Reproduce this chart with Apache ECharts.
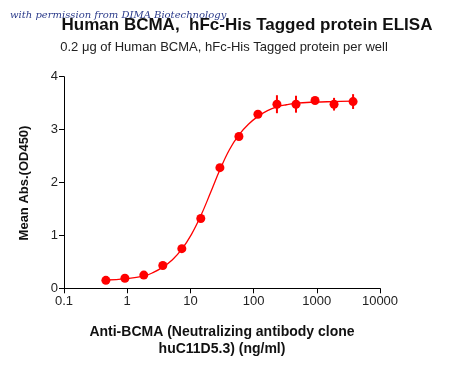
<!DOCTYPE html>
<html><head><meta charset="utf-8">
<script src="https://cdn.jsdelivr.net/npm/echarts@6/dist/echarts.min.js"></script>
<style>html,body{margin:0;padding:0;background:#fff}#c{width:450px;height:371px}</style>
</head><body><div id="c"></div>
<script>
// Data
var concentration = [0.46, 0.92, 1.83, 3.66, 7.32, 14.6, 29.3, 58.6, 117, 234, 469, 938, 1875, 3750];
var meanAbs       = [0.15, 0.19, 0.25, 0.43, 0.75, 1.32, 2.28, 2.87, 3.29, 3.48, 3.48, 3.55, 3.48, 3.53];
var errAbs        = [0.02, 0.02, 0.02, 0.03, 0.03, 0.05, 0.04, 0.03, 0.03, 0.17, 0.16, 0.03, 0.12, 0.14];
// Fitted curve
var curveX = [0.46, 0.92, 1.83, 2.6, 3.66, 5.2, 7.32, 10.4, 14.6, 20.7, 29.3, 41.4, 58.6, 82.8, 117, 166, 234, 331, 469, 938, 1875, 3750];
var curveY = [0.16, 0.18, 0.23, 0.30, 0.40, 0.54, 0.74, 1.02, 1.37, 1.80, 2.24, 2.62, 2.90, 3.10, 3.25, 3.36, 3.43, 3.47, 3.50, 3.52, 3.53, 3.54];
var xTicks = [0.1, 1, 10, 100, 1000, 10000];
var yTicks = [0, 1, 2, 3, 4];

var chart = echarts.init(document.getElementById('c'));
var font = 'Liberation Sans, Arial, sans-serif';
chart.setOption({
  animation: false,
  backgroundColor: '#fff',
  grid: {left: 64, right: 70, top: 76.7, bottom: 82.7, containLabel: false},
  xAxis: {
    type: 'log', logBase: 10, min: xTicks[0], max: xTicks[xTicks.length-1],
    axisLine: {onZero: false, lineStyle: {color: '#000', width: 1}},
    axisTick: {show: true, length: 5, lineStyle: {color: '#000'}},
    splitLine: {show: false}, minorTick: {show: false},
    axisLabel: {color: '#222', fontSize: 13, fontFamily: font, margin: 7,
      formatter: function (v) { return String(+v.toPrecision(6)); }}
  },
  yAxis: {
    type: 'value', min: yTicks[0], max: yTicks[yTicks.length-1], interval: 1,
    axisLine: {show: true, lineStyle: {color: '#000', width: 1}},
    axisTick: {show: true, length: 5, lineStyle: {color: '#000'}},
    splitLine: {show: false},
    axisLabel: {color: '#222', fontSize: 13, fontFamily: font, margin: 6}
  },
  graphic: [
    {type: 'text', x: 10, y: 15, style: {text: 'with permission from DIMA Biotechnology', fill: '#2a3a8a', font: 'italic 10px "DejaVu Serif", serif', textVerticalAlign: 'middle'}, z: 10},
    {type: 'text', x: 247, y: 25, style: {text: 'Human BCMA,  hFc-His Tagged protein ELISA', fill: '#111', font: 'bold 17px ' + font, textAlign: 'center', textVerticalAlign: 'middle'}},
    {type: 'text', x: 224, y: 47, style: {text: '0.2 μg of Human BCMA, hFc-His Tagged protein per well', fill: '#222', font: '13px ' + font, textAlign: 'center', textVerticalAlign: 'middle'}},
    {type: 'text', x: 24, y: 183, rotation: Math.PI/2, style: {text: 'Mean Abs.(OD450)', fill: '#111', font: 'bold 13px ' + font, textAlign: 'center', textVerticalAlign: 'middle'}},
    {type: 'text', x: 222, y: 332, style: {text: 'Anti-BCMA (Neutralizing antibody clone', fill: '#111', font: 'bold 14px ' + font, textAlign: 'center', textVerticalAlign: 'middle'}},
    {type: 'text', x: 222, y: 349, style: {text: 'huC11D5.3) (ng/ml)', fill: '#111', font: 'bold 14px ' + font, textAlign: 'center', textVerticalAlign: 'middle'}}
  ],
  series: [
    {type: 'line', data: curveX.map(function (x, i) { return [x, curveY[i]]; }), smooth: 0.4, showSymbol: false,
      lineStyle: {color: '#ff0000', width: 1.3}, z: 2},
    {type: 'custom', data: concentration.map(function (x, i) { return [x, meanAbs[i] - errAbs[i], meanAbs[i] + errAbs[i]]; }),
      renderItem: function (params, api) {
        var lo = api.coord([api.value(0), api.value(1)]);
        var hi = api.coord([api.value(0), api.value(2)]);
        return {type: 'line', shape: {x1: lo[0], y1: lo[1], x2: hi[0], y2: hi[1]}, style: {stroke: '#ff0000', lineWidth: 2}};
      }, z: 3},
    {type: 'scatter', data: concentration.map(function (x, i) { return [x, meanAbs[i]]; }), symbol: 'circle', symbolSize: 9,
      itemStyle: {color: '#ff0000', opacity: 1}, z: 4}
  ]
});
</script></body></html>
